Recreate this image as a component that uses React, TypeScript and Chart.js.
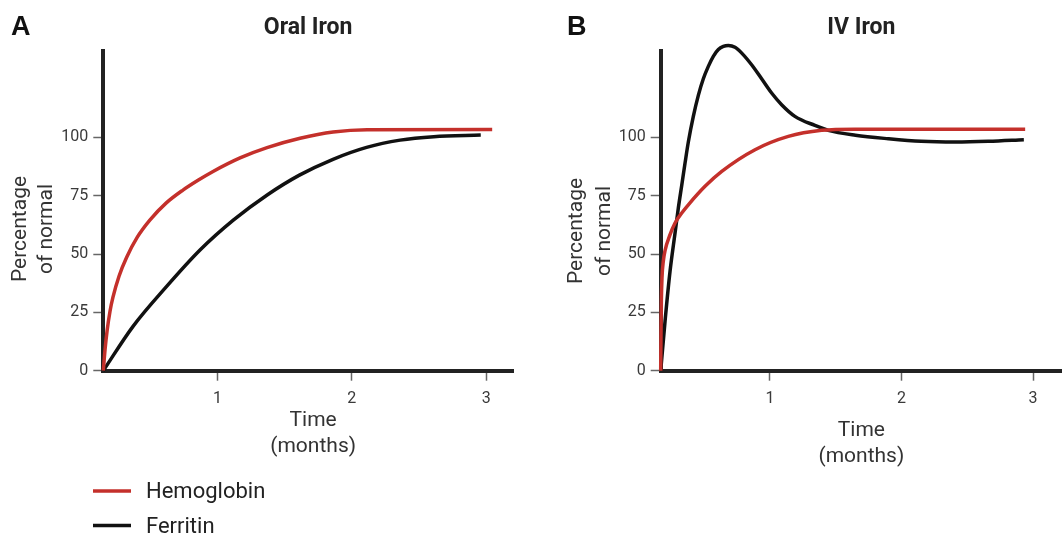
import React, { useEffect, useRef } from 'react';
import { Chart, registerables } from 'chart.js';

Chart.register(...registerables);

// ---------- data ----------
const seriesLabels = ['Hemoglobin', 'Ferritin'];
const seriesColors = ['#c4302b', '#111111'];
const xTicks = [1, 2, 3];
const yTicks = [0, 25, 50, 75, 100];

// Panel A: Oral iron
const oralHbTime = [0.15, 0.163, 0.178, 0.2, 0.222, 0.267, 0.324, 0.401, 0.498, 0.617, 0.743, 0.855, 0.967, 1.168, 1.369, 1.615, 1.861, 2.114, 3.045];
const oralHbValue = [0, 9, 17, 25.5, 31.5, 40.5, 48.6, 57, 64.6, 71.8, 77.4, 81.6, 85.4, 91.2, 95.6, 99.6, 102.3, 103.3, 103.4];
const oralFeTime = [0.15, 0.37, 0.62, 0.87, 1.12, 1.37, 1.61, 1.86, 2.11, 2.36, 2.61, 2.96];
const oralFeValue = [0, 18.9, 36, 51.7, 64.6, 75.3, 83.8, 90.6, 95.7, 98.8, 100.3, 101];

// Panel B: IV iron
const ivHbTime = [0.17, 0.172, 0.175, 0.18, 0.19, 0.203, 0.241, 0.279, 0.33, 0.38, 0.507, 0.634, 0.887, 1.14, 1.393, 1.646, 2.2, 2.94];
const ivHbValue = [0, 15, 30, 40, 47, 51.5, 58.3, 63.3, 67.6, 71.1, 79, 85.4, 94.7, 100.4, 103, 103.5, 103.5, 103.5];
const ivFeTime = [0.17, 0.203, 0.241, 0.279, 0.304, 0.33, 0.355, 0.38, 0.418, 0.456, 0.494, 0.532, 0.57, 0.608, 0.646, 0.684, 0.735, 0.786, 0.861, 0.937, 1.013, 1.089, 1.19, 1.342, 1.443, 1.65, 1.9, 2.15, 2.41, 2.66, 2.93];
const ivFeValue = [0, 21.2, 42.6, 59, 69.7, 79.5, 89, 98, 109, 118, 125.1, 130.4, 134.7, 137.6, 139, 139.4, 138.6, 136.1, 131.1, 125.1, 119, 114, 109, 105.1, 103, 100.9, 99.4, 98.3, 98, 98.3, 99];

// ---------- helpers ----------
const zip = (xs: number[], ys: number[]) => xs.map((x, i) => ({ x, y: ys[i] }));

const decorPlugin = {
  id: 'decor',
  afterDraw(chart: any, _args: any, o: any) {
    const ctx = chart.ctx;
    const ca = chart.chartArea;
    ctx.save();
    // panel letter
    ctx.font = 'bold 27px "Liberation Sans", Arial, sans-serif';
    ctx.fillStyle = '#111';
    ctx.textAlign = 'left';
    ctx.textBaseline = 'alphabetic';
    ctx.fillText(o.panel, o.panelX, o.panelY);
    // y title
    ctx.font = '21px Roboto';
    ctx.fillStyle = '#333';
    ctx.textAlign = 'center';
    ctx.textBaseline = 'middle';
    o.yTitle.forEach((line: string, i: number) => {
      ctx.save();
      ctx.translate(o.yTitleX[i], o.yTitleY);
      ctx.rotate(-Math.PI / 2);
      ctx.fillText(line, 0, 0);
      ctx.restore();
    });
    // x title
    const cx = (ca.left + ca.right) / 2 + o.xTitleDx;
    o.xTitle.forEach((line: string, i: number) => {
      ctx.fillText(line, cx, o.xTitleY[i]);
    });
    // legend
    if (o.legend) {
      chart.data.datasets.forEach((ds: any, i: number) => {
        const y = o.legendY[i];
        ctx.strokeStyle = ds.borderColor;
        ctx.lineWidth = 3.5;
        ctx.beginPath();
        ctx.moveTo(o.legendLineX[0], y);
        ctx.lineTo(o.legendLineX[1], y);
        ctx.stroke();
        ctx.font = '22px Roboto';
        ctx.fillStyle = '#222';
        ctx.textAlign = 'left';
        ctx.textBaseline = 'middle';
        ctx.fillText(ds.label, o.legendTextX, y + 1.5);
      });
    }
    ctx.restore();
  },
};

const CANVAS_H = 537;
const AXIS_Y = 370.7;

function makeConfig(p: any) {
  const tickFont = { family: 'Roboto', size: 16 };
  const line = (i: number, data: any[]) => ({
    label: seriesLabels[i],
    data,
    borderColor: seriesColors[i],
    backgroundColor: seriesColors[i],
    borderWidth: 3.5,
    pointRadius: 0,
    fill: false,
    cubicInterpolationMode: 'monotone',
    clip: false,
  });
  return {
    type: 'line',
    data: {
      datasets: [line(0, zip(p.hbT, p.hbV)), line(1, zip(p.feT, p.feV))],
    },
    options: {
      animation: false,
      responsive: false,
      maintainAspectRatio: false,
      events: [],
      layout: { padding: { left: 0, right: p.padRight, top: 0, bottom: 0 } },
      plugins: {
        legend: { display: false },
        tooltip: { enabled: false },
        title: {
          display: true,
          text: p.title,
          fullSize: false,
          color: '#222',
          font: { family: 'Roboto', size: 23, weight: 'bold', lineHeight: 1.2 },
          padding: { top: 14.2, bottom: 9.2 },
        },
        decor: p.decor,
      },
      scales: {
        x: {
          type: 'linear',
          min: p.xMin,
          max: p.xMax,
          afterBuildTicks: (s: any) => {
            s.ticks = xTicks.map((v) => ({ value: v }));
          },
          afterFit: (s: any) => {
            s.height = CANVAS_H - AXIS_Y;
          },
          grid: { drawOnChartArea: false, drawTicks: true, tickLength: 10, tickWidth: 1.5, tickColor: '#666' },
          border: { display: true, width: 4, color: '#222' },
          ticks: { font: tickFont, color: '#3a3a3a', padding: 9, maxRotation: 0 },
        },
        y: {
          type: 'linear',
          min: 0,
          max: 137,
          afterBuildTicks: (s: any) => {
            s.ticks = yTicks.map((v) => ({ value: v }));
          },
          afterFit: (s: any) => {
            s.width = p.yAxisWidth;
          },
          grid: { drawOnChartArea: false, drawTicks: true, tickLength: 10, tickWidth: 1.5, tickColor: '#666' },
          border: { display: true, width: 4, color: '#222' },
          ticks: { font: tickFont, color: '#3a3a3a', padding: 5 },
        },
      },
    },
    plugins: [decorPlugin],
  };
}

function Panel(props: { left: number; width: number; cfg: any }) {
  const ref = useRef<HTMLCanvasElement | null>(null);
  useEffect(() => {
    if (!ref.current) return;
    const chart = new Chart(ref.current, makeConfig(props.cfg) as any);
    return () => chart.destroy();
  }, []);
  return (
    <canvas
      ref={ref}
      width={props.width}
      height={CANVAS_H}
      style={{ position: 'absolute', left: props.left, top: 0, width: props.width, height: CANVAS_H, display: 'block' }}
    />
  );
}

export default function App() {
  const cfgA = {
    title: 'Oral Iron',
    hbT: oralHbTime,
    hbV: oralHbValue,
    feT: oralFeTime,
    feV: oralFeValue,
    xMin: 0.15,
    xMax: 3.2,
    padRight: 17,
    yAxisWidth: 103.3,
    decor: {
      panel: 'A',
      panelX: 11,
      panelY: 35,
      yTitle: ['Percentage', 'of normal'],
      yTitleX: [21, 47],
      yTitleY: 229,
      xTitle: ['Time', '(months)'],
      xTitleDx: 5,
      xTitleY: [421, 447],
      legend: true,
      legendY: [491, 525.5],
      legendLineX: [93, 131],
      legendTextX: 146,
    },
  };
  const cfgB = {
    title: 'IV Iron',
    hbT: ivHbTime,
    hbV: ivHbValue,
    feT: ivFeTime,
    feV: ivFeValue,
    xMin: 0.17,
    xMax: 3.22,
    padRight: 0,
    yAxisWidth: 120.7,
    decor: {
      panel: 'B',
      panelX: 27,
      panelY: 35,
      yTitle: ['Percentage', 'of normal'],
      yTitleX: [37, 65],
      yTitleY: 231,
      xTitle: ['Time', '(months)'],
      xTitleDx: 0,
      xTitleY: [431, 457],
      legend: false,
    },
  };
  return (
    <div style={{ position: 'fixed', left: 0, top: 0, width: 1062, height: CANVAS_H, background: '#fff', overflow: 'hidden' }}>
      <Panel left={0} width={530} cfg={cfgA} />
      <Panel left={540} width={522} cfg={cfgB} />
    </div>
  );
}
